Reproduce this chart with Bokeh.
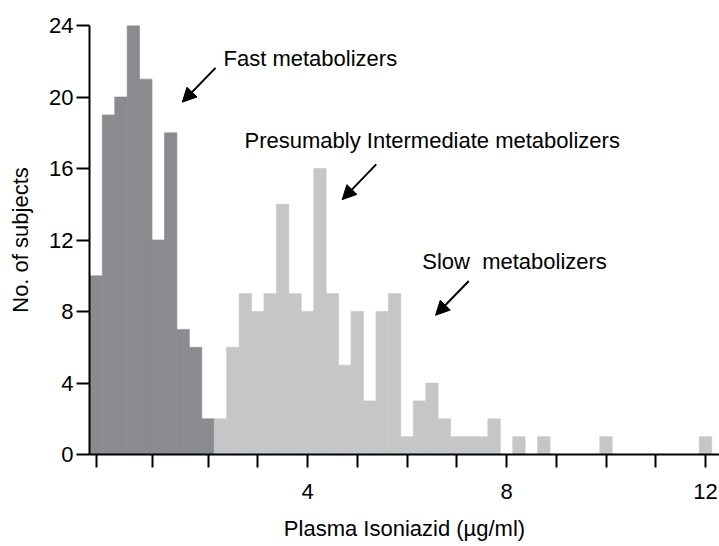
from bokeh.plotting import figure
from bokeh.models import Range1d, FixedTicker, Label, Arrow, NormalHead, ColumnDataSource
from bokeh.embed import file_html
from bokeh.resources import INLINE

# ---- data ----
bin_centers = [-0.25, 0.0, 0.25, 0.5, 0.75, 1.0, 1.25, 1.5, 1.75, 2.0,
               2.25, 2.5, 2.75, 3.0, 3.25, 3.5, 3.75, 4.0, 4.25, 4.5,
               4.75, 5.0, 5.25, 5.5, 5.75, 6.0, 6.25, 6.5, 6.75, 7.0,
               7.25, 7.5, 7.75, 8.0, 8.25, 8.5, 8.75, 9.0, 9.25, 9.5,
               9.75, 10.0, 10.25, 10.5, 10.75, 11.0, 11.25, 11.5, 11.75, 12.0]
counts = [10, 19, 20, 24, 21, 12, 18, 7, 6, 2,
          2, 6, 9, 8, 9, 14, 9, 8, 16, 9,
          5, 8, 3, 8, 9, 1, 3, 4, 2, 1,
          1, 1, 2, 0, 1, 0, 1, 0, 0, 0,
          0, 1, 0, 0, 0, 0, 0, 0, 0, 1]
bin_width = 0.25
n_fast = 10  # first bins drawn dark (fast metabolizers)

x_ticks = [-0.25, 0.875, 2, 3, 4, 5, 6, 7, 8, 9, 10, 11, 12]
x_tick_labels = {4: "4", 8: "8", 12: "12"}
y_ticks = [0, 4, 8, 12, 16, 20, 24]

x_title = "Plasma Isoniazid (\u00b5g/ml)"
y_title = "No. of subjects"
annotations = ["Fast metabolizers",
               "Presumably Intermediate metabolizers",
               "Slow\u00a0 metabolizers"]

FONT = "Liberation Sans"
DARK = "#8a8b8f"
LIGHT = "#c5c6c8"

p = figure(width=719, height=546, output_backend="svg", toolbar_location=None,
           x_range=Range1d(-0.382, 12.281), y_range=Range1d(0, 24),
           min_border_left=89, min_border_right=0, min_border_top=25,
           min_border_bottom=92)
p.outline_line_color = None
p.xgrid.visible = False
p.ygrid.visible = False
p.background_fill_color = "white"

left = [c - bin_width / 2 for c in bin_centers]
right = [c + bin_width / 2 for c in bin_centers]
colors = [DARK if i < n_fast else LIGHT for i in range(len(counts))]
src = ColumnDataSource(dict(left=left, right=right, top=counts,
                            bottom=[0] * len(counts), color=colors))
p.quad(left="left", right="right", top="top", bottom="bottom",
       fill_color="color", line_color="color", line_width=0.6, source=src)

# axes
for ax in (p.xaxis[0], p.yaxis[0]):
    ax.axis_line_width = 2
    ax.axis_line_color = "black"
    ax.major_tick_line_width = 2
    ax.major_tick_line_color = "black"
    ax.major_tick_out = 13
    ax.major_tick_in = 0
    ax.minor_tick_line_color = None
    ax.major_label_text_font = FONT
    ax.major_label_text_font_size = "22px"
    ax.major_label_text_color = "black"
    ax.axis_label_text_font = FONT
    ax.axis_label_text_font_size = "22px"
    ax.axis_label_text_font_style = "normal"
    ax.axis_label_text_color = "black"

p.xaxis.ticker = FixedTicker(ticks=x_ticks)
p.xaxis.major_label_overrides = {t: x_tick_labels.get(t, "") for t in x_ticks}
p.xaxis.major_label_standoff = 16
p.xaxis.axis_label = x_title
p.xaxis.axis_label_standoff = 14

p.yaxis.ticker = FixedTicker(ticks=y_ticks)
p.yaxis.major_label_standoff = 3
p.yaxis.axis_label = y_title
p.yaxis.axis_label_standoff = 13

# annotations with arrows
text_pos = [(2.312, 22.18), (2.734, 17.57), (6.306, 10.81)]
arrow_pos = [((2.151, 21.63), (1.482, 19.71)),
             ((5.381, 16.23), (4.697, 14.26)),
             ((7.242, 9.71), (6.573, 7.79))]
for txt, (tx, ty), ((xs, ys), (xe, ye)) in zip(annotations, text_pos, arrow_pos):
    p.add_layout(Label(x=tx, y=ty, text=txt, text_font=FONT, text_font_size="22px",
                       text_baseline="middle", text_color="black"))
    p.add_layout(Arrow(end=NormalHead(size=14, fill_color="black", line_color="black"),
                       x_start=xs, y_start=ys, x_end=xe, y_end=ye,
                       line_width=2, line_color="black"))

open("out.html", "w").write(file_html(p, INLINE))
